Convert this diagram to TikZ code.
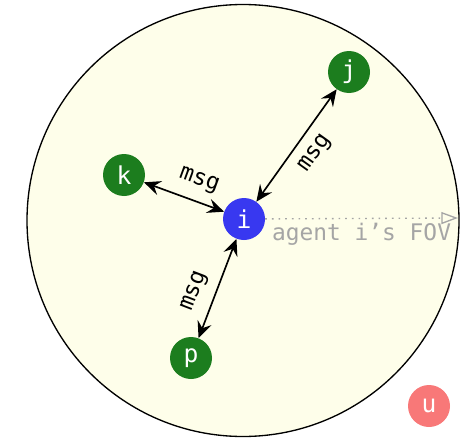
\documentclass[tikz,border=0pt]{standalone}
\usepackage{fontspec}
\setmonofont{DejaVu Sans Mono}
\usetikzlibrary{arrows.meta}
\definecolor{fovfill}{RGB}{254,254,234}
\definecolor{agentgreen}{RGB}{28,125,30}
\definecolor{agentblue}{RGB}{56,56,240}
\definecolor{agentred}{RGB}{248,120,120}
\definecolor{fovgray}{RGB}{165,165,165}
\tikzset{
  agent/.style={circle,fill=#1,text=white,minimum size=12.6mm,inner sep=0pt,
    font=\ttfamily\fontsize{21}{25}\selectfont},
  msgtip/.tip={Stealth[length=5mm,width=4.4mm,inset=1.8mm]},
  msgarrow/.style={msgtip-msgtip,line width=0.5mm},
  msglabel/.style={sloped,font=\ttfamily\fontsize{19.5}{23}\selectfont}
}
\begin{document}
\begin{tikzpicture}[x=0.3mm,y=-0.3mm]
    \useasboundingbox (0,0) rectangle (461,438);
    \draw[fill=fovfill,line width=0.4mm] (243,220.5) circle [radius=216];
    \node[agent=agentblue] (i) at (244,219) {i};
    \node[agent=agentgreen] (j) at (349,72) {j};
    \node[agent=agentgreen] (k) at (124,175) {k};
    \node[agent=agentgreen] (p) at (191,358) {p};
    \node[agent=agentred] (u) at (429,406) {u};
    \coordinate (fov) at (458,218);
    \draw[msgarrow] (k) -- node[msglabel,pos=0.6,above=2mm] {msg} (i);
    \draw[msgarrow] (i) -- node[msglabel,pos=0.53,below=2mm] {msg} (j);
    \draw[msgarrow] (p) -- node[msglabel,pos=0.4,above=2mm] {msg} (i);
    \draw[fovgray,line width=0.4mm,dash pattern=on 0.5mm off 1.5mm,-{Triangle[open,length=5mm,width=3.6mm]}] (i) -- (fov)
        node[midway,below,text=fovgray,font=\ttfamily\fontsize{19.5}{23}\selectfont] {agent i’s FOV};
\end{tikzpicture}
\end{document}
